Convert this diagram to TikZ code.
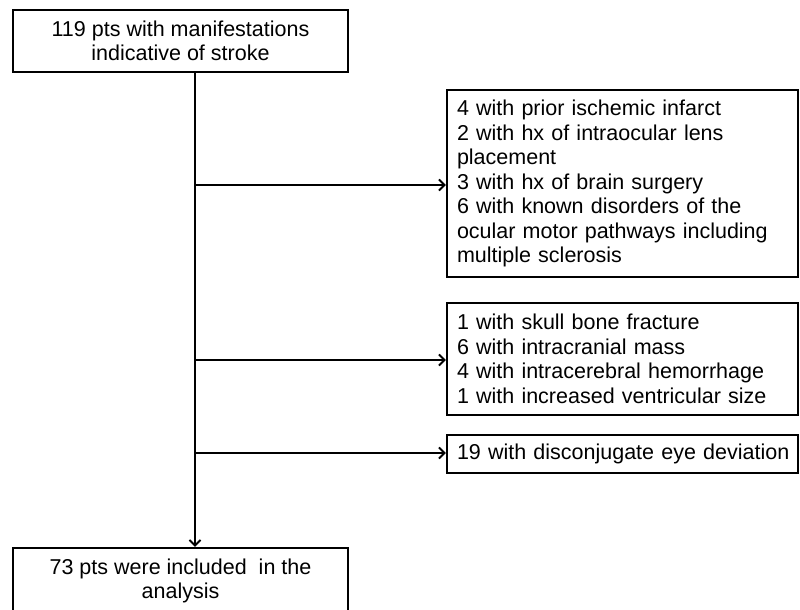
\documentclass[tikz,border=0pt]{standalone}
\usepackage{fontspec}
\setmainfont{Liberation Sans}
\usetikzlibrary{arrows.meta}
\begin{document}
\begin{tikzpicture}[x=1pt,y=-1pt,
  box/.style={draw=black, line width=2.2pt, inner sep=0pt, font=\fontsize{21.5}{24.5}\selectfont},
  cbox/.style={box, align=center},
  lbox/.style={box, align=left, inner xsep=10pt, text width=331pt, minimum width=351pt},
  conn/.style={line width=2pt, -{Straight Barb[length=5.5pt,width=11pt,line width=2pt]}}]
\useasboundingbox (0,0) rectangle (800,610);
\node[cbox, minimum width=335pt, minimum height=62pt] (top) at (180.5,41)
  {119 pts with manifestations\\indicative of stroke};
\node[cbox, minimum width=335pt, minimum height=66pt] (bot) at (180.5,581)
  {73 pts were included\ \ in the\\analysis};
\node[lbox, minimum height=187pt] (ex1) at (622.5,183.5)
  {4 with prior ischemic infarct\\2 with hx of intraocular lens\\placement\\3 with hx of brain surgery\\6 with known disorders of the\\ocular motor pathways including\\multiple sclerosis};
\node[lbox, minimum height=112pt] (ex2) at (622.5,359)
  {1 with skull bone fracture\\6 with intracranial mass\\4 with intracerebral hemorrhage\\1 with increased ventricular size};
\node[lbox, minimum height=38pt] (ex3) at (622.5,454)
  {\mbox{19 with disconjugate eye deviation}};
\coordinate (b1) at (195,185);
\coordinate (b2) at (195,360);
\coordinate (b3) at (195,453);
\draw[conn] (top.south -| b1) -- (bot.north -| b1);
\draw[conn] (b1) -- (b1 -| ex1.west);
\draw[conn] (b2) -- (b2 -| ex2.west);
\draw[conn] (b3) -- (b3 -| ex3.west);
\end{tikzpicture}
\end{document}
